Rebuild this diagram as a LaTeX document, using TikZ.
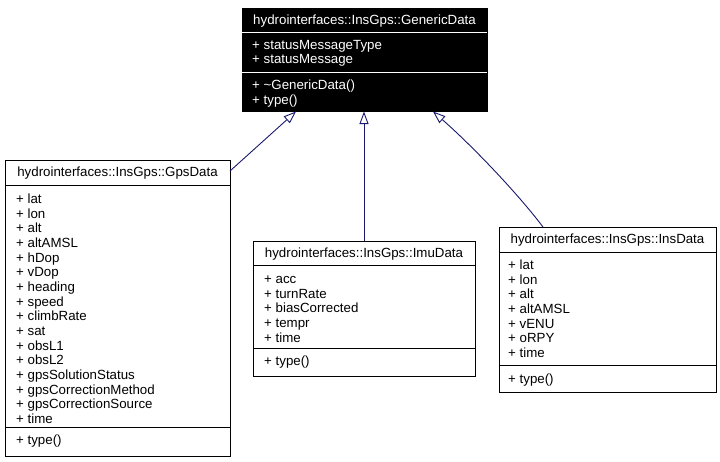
\documentclass[tikz,border=0pt]{standalone}
\usepackage{fontspec}
\setmainfont{Liberation Sans}
\usetikzlibrary{arrows.meta}
\definecolor{edgeblue}{HTML}{191970}
\tikzset{
  umlbox/.style={draw=black, line width=1pt, inner sep=0pt, anchor=north west},
  genbox/.style={umlbox, fill=black},
  txt/.style={inner sep=0pt, anchor=base west, font=\fontsize{13.3}{14.6}\selectfont},
  ttl/.style={inner sep=0pt, anchor=base, font=\fontsize{13.3}{14.6}\selectfont},
  wtxt/.style={txt, text=white},
  wttl/.style={ttl, text=white},
  divider/.style={draw=black, line width=1pt},
  wdivider/.style={draw=white, line width=1pt},
  inherit/.style={draw=edgeblue, line width=0.9pt, -{Triangle[open, length=12.5pt, width=9pt, fill=white]}}
}
\begin{document}
\begin{tikzpicture}[x=1pt, y=-1pt]
\useasboundingbox (0,0) rectangle (720,461);
\fill[white] (0,0) rectangle (720,461);

% ---------- GenericData ----------
\node[genbox, minimum width=245pt, minimum height=103pt] (gen) at (242,8) {};
\node[wttl] (gent) at (364.5,24) {hydrointerfaces::InsGps::GenericData};
\draw[wdivider] (242,32) -- (487,32);
\node[wtxt] (gena1) at (252,49) {+ statusMessageType};
\node[wtxt] (gena2) at (252,63.5) {+ statusMessage};
\draw[wdivider] (242,72) -- (487,72);
\node[wtxt] (genm1) at (252,89.5) {+ \textasciitilde GenericData()};
\node[wtxt] (genm2) at (252,104) {+ type()};

% ---------- GpsData ----------
\node[umlbox, minimum width=225pt, minimum height=296pt] (gps) at (5,160) {};
\node[ttl] (gpst) at (117.5,176.5) {hydrointerfaces::InsGps::GpsData};
\draw[divider] (5,185) -- (230,185);
\foreach \t [count=\i from 0] in {lat,lon,alt,altAMSL,hDop,vDop,heading,speed,climbRate,sat,obsL1,obsL2,gpsSolutionStatus,gpsCorrectionMethod,gpsCorrectionSource,time}
  \node[txt] (gpsa\i) at (16,{203.5+14.67*\i}) {+ \t};
\draw[divider] (5,427) -- (230,427);
\node[txt] (gpsm1) at (16,444.5) {+ type()};

% ---------- ImuData ----------
\node[umlbox, minimum width=222pt, minimum height=135pt] (imu) at (253,241) {};
\node[ttl] (imut) at (364,257.5) {hydrointerfaces::InsGps::ImuData};
\draw[divider] (253,265) -- (475,265);
\foreach \t [count=\i from 0] in {acc,turnRate,biasCorrected,tempr,time}
  \node[txt] (imua\i) at (264,{283.5+14.67*\i}) {+ \t};
\draw[divider] (253,348) -- (475,348);
\node[txt] (imum1) at (264,365.5) {+ type()};

% ---------- InsData ----------
\node[umlbox, minimum width=217pt, minimum height=165pt] (ins) at (499,227) {};
\node[ttl] (inst) at (607.5,243.5) {hydrointerfaces::InsGps::InsData};
\draw[divider] (499,252) -- (716,252);
\foreach \t [count=\i from 0] in {lat,lon,alt,altAMSL,vENU,oRPY,time}
  \node[txt] (insa\i) at (508,{269.5+14.67*\i}) {+ \t};
\draw[divider] (499,365) -- (716,365);
\node[txt] (insm1) at (508,383.5) {+ type()};

% ---------- inheritance ----------
\coordinate (gpsend) at (230,171);
\coordinate (tipL) at (296,111.5);
\coordinate (tipM) at (364,111.5);
\coordinate (tipR) at (433,111.5);
\draw[inherit] (gpsend) -- (tipL);
\draw[inherit] (imu.north -| tipM) -- (tipM);
\draw[inherit] (543,227) .. controls (515,190) and (468,142) .. (tipR);
\end{tikzpicture}
\end{document}
